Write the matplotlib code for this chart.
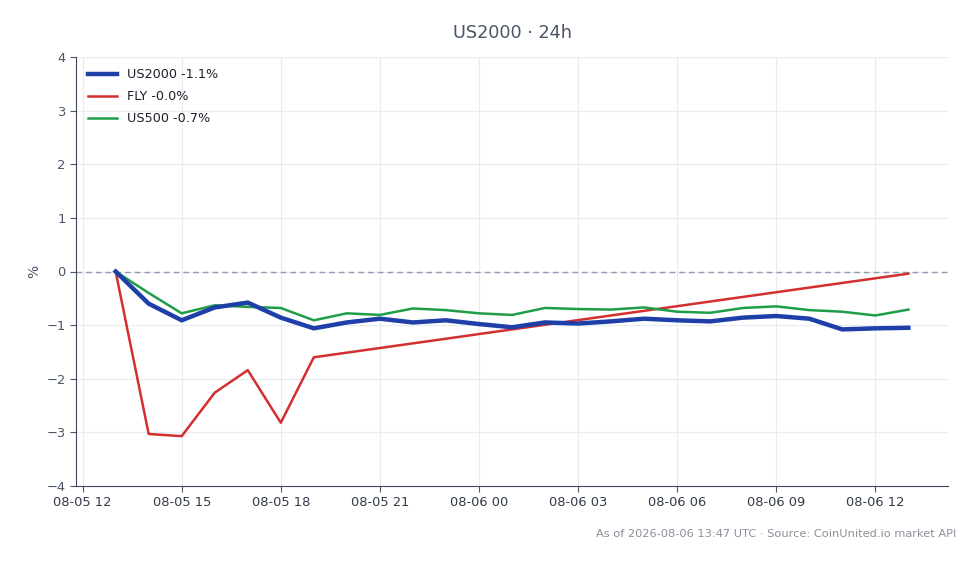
import numpy as np
import pandas as pd
import matplotlib
matplotlib.use('Agg')
from matplotlib import pyplot as plt
import matplotlib.dates as mdates

# hourly points, 08-05 13:00 -> 08-06 13:00
times = pd.date_range('2026-08-05 13:00', '2026-08-06 13:00', freq='h')

us2000 = [0.0, -0.60, -0.91, -0.67, -0.58, -0.86, -1.06, -0.95, -0.88, -0.95,
          -0.91, -0.98, -1.04, -0.95, -0.97, -0.93, -0.88, -0.91, -0.93, -0.86,
          -0.83, -0.88, -1.08, -1.06, -1.05]
us500 = [0.0, -0.40, -0.78, -0.63, -0.66, -0.68, -0.91, -0.78, -0.81, -0.69,
         -0.72, -0.78, -0.81, -0.68, -0.70, -0.71, -0.67, -0.75, -0.77, -0.68,
         -0.65, -0.72, -0.75, -0.82, -0.71]
# FLY has no points between 19:00 and the last one
fly_times = list(times[:7]) + [times[-1]]
fly = [0.0, -3.03, -3.07, -2.26, -1.84, -2.82, -1.60, -0.04]

labels = ['US2000 -1.1%', 'FLY -0.0%', 'US500 -0.7%']
yticks = [-4, -3, -2, -1, 0, 1, 2, 3, 4]
ytick_labels = ['\u22124', '\u22123', '\u22122', '\u22121', '0', '1', '2', '3', '4']

txt = '#4a5568'
fig = plt.figure(figsize=(9.8, 5.64), dpi=100)
ax = fig.add_axes([76/980, 1 - 486/564, (948-76)/980, (486-57)/564])

ax.plot(times, us2000, color='#1e3fa8', lw=3.2, label=labels[0], zorder=4)
ax.plot(fly_times, fly, color='#d42f2f', lw=1.8, label=labels[1], zorder=3)
ax.plot(times, us500, color='#1f9e48', lw=1.8, label=labels[2], zorder=3)
ax.axhline(0, color='#8e9bb0', lw=1, ls=(0, (4, 3)), zorder=2)

ax.set_ylim(-4, 4)
ax.set_yticks(yticks)
ax.set_yticklabels(ytick_labels)
ax.xaxis.set_major_locator(mdates.HourLocator(byhour=[0, 3, 6, 9, 12, 15, 18, 21]))
ax.xaxis.set_major_formatter(mdates.DateFormatter('%m-%d %H'))
ax.grid(color='#e8ebf0', lw=0.8)
ax.set_axisbelow(True)
for s in ['top', 'right']:
    ax.spines[s].set_visible(False)
for s in ['left', 'bottom']:
    ax.spines[s].set_color('#3d4756')
ax.tick_params(colors=txt, labelsize=9.4, length=4)
ax.tick_params(axis='x', labelcolor='#333b48')
ax.set_ylabel('%', color=txt, fontsize=10)

ax.set_title('US2000 \u00b7 24h', color=txt, fontsize=12.7, pad=14)
leg = ax.legend(loc='upper left', frameon=False, fontsize=9.2, handlelength=2.3,
                labelspacing=0.7)
for t in leg.get_texts():
    t.set_color('#1a1f29')

fig.text(956/980, 1 - 534/564, 'As of 2026-08-06 13:47 UTC \u00b7 Source: CoinUnited.io market API',
         ha='right', va='center', color='#8a9099', fontsize=8.2)

fig.savefig('out.png', dpi=100)
